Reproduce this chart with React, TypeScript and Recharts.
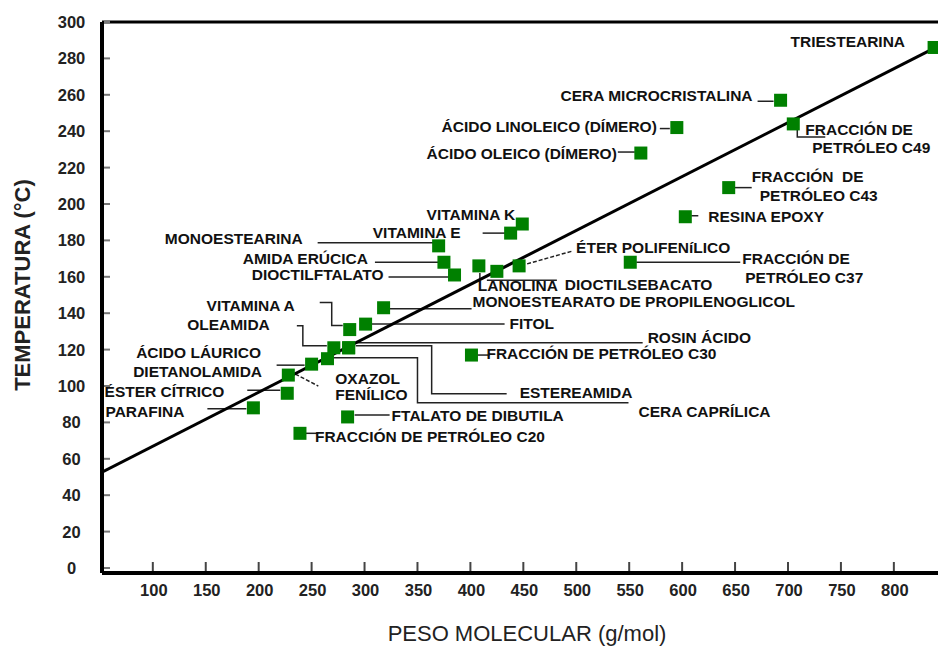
import React from 'react';
import { ComposedChart, Scatter, XAxis, YAxis, ReferenceLine, Label } from 'recharts';

// compuestos (\n = salto de línea en la etiqueta)
const compuestos = [
  'TRIESTEARINA',
  'CERA MICROCRISTALINA',
  'ÁCIDO LINOLEICO (DÍMERO)',
  'ÁCIDO OLEICO (DÍMERO)',
  'FRACCIÓN DE\nPETRÓLEO C49',
  'FRACCIÓN  DE\nPETRÓLEO C43',
  'RESINA EPOXY',
  'VITAMINA K',
  'VITAMINA E',
  'MONOESTEARINA',
  'AMIDA ERÚCICA',
  'DIOCTILFTALATO',
  'LANOLINA',
  'DIOCTILSEBACATO',
  'ÉTER POLIFENíLICO',
  'FRACCIÓN DE\nPETRÓLEO C37',
  'MONOESTEARATO DE PROPILENOGLICOL',
  'FITOL',
  'VITAMINA A',
  'OLEAMIDA',
  'ROSIN ÁCIDO',
  'ESTEREAMIDA',
  'CERA CAPRÍLICA',
  'ÁCIDO LÁURICO\nDIETANOLAMIDA',
  'OXAZOL\nFENÍLICO',
  'ÉSTER CÍTRICO',
  'PARAFINA',
  'FTALATO DE DIBUTILA',
  'FRACCIÓN DE PETRÓLEO C20',
  'FRACCIÓN DE PETRÓLEO C30',
];
const pesoMolecular = [838, 693, 595, 561, 705, 644, 603, 449, 438, 370, 375, 385, 408, 425, 446, 551, 318, 301, 286, 271, 285, 285, 265, 250, 228, 227, 195, 284, 239, 401];
const temperatura = [286, 257, 242, 228, 244, 209, 193, 189, 184, 177, 168, 161, 166, 163, 166, 168, 143, 134, 131, 121, 121, 121, 115, 112, 106, 96, 88, 83, 74, 117];

// recta de tendencia
const tendenciaX = [52, 841];
const tendenciaY = [52.7, 286.5];

const xTicks = [100, 150, 200, 250, 300, 350, 400, 450, 500, 550, 600, 650, 700, 750, 800];
const yTicks = [0, 20, 40, 60, 80, 100, 120, 140, 160, 180, 200, 220, 240, 260, 280, 300];

// ubicación de etiquetas y líneas guía, en px relativos al punto
type Nota = {
  anchor: 'start' | 'end' | 'middle';
  pos: [number, number][];
  path?: [number, number][];
  dashed?: boolean;
};
const notas: Nota[] = [
  { anchor: 'end', pos: [[-29, -6]] },
  { anchor: 'end', pos: [[-28, -5]], path: [[-23, 1], [-7, 1]] },
  { anchor: 'end', pos: [[-20, -1]], path: [[-17, 1], [-7, 1]] },
  { anchor: 'end', pos: [[-24, 0]], path: [[-23, -1], [-6, -1]] },
  { anchor: 'start', pos: [[12, 6], [19, 24]], path: [[4, 1], [4, 13], [32, 13]] },
  { anchor: 'start', pos: [[23, -11], [31, 8]], path: [[4, 0], [23, 0]] },
  { anchor: 'start', pos: [[23, 0]], path: [[6, -1], [13, -1]] },
  { anchor: 'end', pos: [[-7, -10]] },
  { anchor: 'end', pos: [[-50, -1]], path: [[-28, 0], [-5, 0]] },
  { anchor: 'end', pos: [[-136, -7]], path: [[-121, -3], [-5, -3]] },
  { anchor: 'end', pos: [[-76, -4]], path: [[-69, 0], [-5, 0]] },
  { anchor: 'end', pos: [[-71, 0]], path: [[-66, 2], [-4, 2]] },
  { anchor: 'start', pos: [[-1, 20]], path: [[1, 7], [1, 14]] },
  { anchor: 'start', pos: [[68, 13]], path: [[-10, 9], [60, 9]] },
  { anchor: 'start', pos: [[57, -18]], path: [[8, -2], [54, -15]], dashed: true },
  { anchor: 'start', pos: [[112, -4], [115, 15]], path: [[6, 0], [110, 0]] },
  { anchor: 'start', pos: [[89, -6]], path: [[6, 1], [88, 1]] },
  { anchor: 'start', pos: [[144, -1]], path: [[5, 0], [139, 0]] },
  { anchor: 'end', pos: [[-55, -24]], path: [[-30, -27], [-18, -27], [-18, -4], [-7, -4]] },
  { anchor: 'end', pos: [[-64, -23]], path: [[-37, -22], [-31, -22], [-31, -2], [-7, -2]] },
  { anchor: 'start', pos: [[299, -10]], path: [[7, -5], [294, -5]] },
  { anchor: 'start', pos: [[171, 45]], path: [[7, -2], [83, -2], [83, 46], [158, 46]] },
  { anchor: 'start', pos: [[311, 53]], path: [[6, -1], [90, -1], [90, 44], [301, 44]] },
  { anchor: 'middle', pos: [[-113, -12], [-114, 7]], path: [[-35, 1], [-7, 1]] },
  { anchor: 'start', pos: [[47, 3], [47, 19]], path: [[7, -1], [30, 11]], dashed: true },
  { anchor: 'end', pos: [[-63, -2]], path: [[-40, -3], [-7, -3]] },
  { anchor: 'end', pos: [[-69, 4]], path: [[-46, 1], [-7, 1]] },
  { anchor: 'start', pos: [[44, -1]], path: [[7, -2], [42, -2]] },
  { anchor: 'start', pos: [[15, 3]], path: [[6, 0], [18, 0]] },
  { anchor: 'start', pos: [[15, -2]], path: [[6, 0], [18, 0]] },
];

const puntos = compuestos.map((nombre, i) => ({ nombre, i, x: pesoMolecular[i], y: temperatura[i] }));
const tendencia = tendenciaX.map((x, i) => ({ x, y: tendenciaY[i] }));

const FONT = "'Liberation Sans', Arial, sans-serif";
const VERDE = '#008000';
const PLOT_LEFT = 102;
const PLOT_BOTTOM = 573;

function Cuadro(props: any) {
  const { cx, cy } = props;
  return <rect x={cx - 6.5} y={cy - 6.5} width={13} height={13} fill={VERDE} />;
}

function Etiqueta(props: any) {
  const { cx, cy, payload } = props;
  const n = notas[payload.i];
  const lineas = payload.nombre.split('\n');
  return (
    <g>
      {n.path && (
        <polyline
          points={n.path.map(([dx, dy]) => `${cx + dx},${cy + dy}`).join(' ')}
          fill="none"
          stroke="#222"
          strokeWidth={1.5}
          strokeDasharray={n.dashed ? '4 2' : undefined}
        />
      )}
      {lineas.map((t: string, k: number) => (
        <text
          key={k}
          x={cx + n.pos[k][0]}
          y={cy + n.pos[k][1] + 5.5}
          textAnchor={n.anchor}
          fontFamily={FONT}
          fontWeight="bold"
          fontSize={15.5}
          fill="#111"
          style={{ whiteSpace: 'pre' }}
        >
          {t}
        </text>
      ))}
    </g>
  );
}

function YTick({ y, payload }: any) {
  return (
    <g>
      <line x1={PLOT_LEFT + 2} x2={PLOT_LEFT + 8} y1={y} y2={y} stroke="#777" strokeWidth={2} />
      <text x={71.5} y={y + 6} textAnchor="middle" fontFamily={FONT} fontWeight="bold" fontSize={16.5} fill="#222">
        {payload.value}
      </text>
    </g>
  );
}

function XTick({ x, payload }: any) {
  return (
    <g>
      <line x1={x} x2={x} y1={PLOT_BOTTOM - 11} y2={PLOT_BOTTOM - 2} stroke="#444" strokeWidth={2} />
      <text x={x + 1} y={596} textAnchor="middle" fontFamily={FONT} fontWeight="bold" fontSize={16.5} fill="#222">
        {payload.value}
      </text>
    </g>
  );
}

export default function App() {
  return (
    <div style={{ position: 'absolute', left: 0, top: 0, width: 938, height: 648, background: '#fff' }}>
      <ComposedChart width={938} height={648} margin={{ top: 22, right: 0, bottom: 0, left: 0 }}>
        <XAxis
          type="number"
          dataKey="x"
          domain={[52, 841.7]}
          ticks={xTicks}
          height={75}
          tickLine={false}
          tick={<XTick />}
          axisLine={{ stroke: '#000', strokeWidth: 4 }}
          allowDataOverflow
        >
          <Label
            content={() => (
              <text x={527} y={633} textAnchor="middle" dominantBaseline="central" fontFamily={FONT} fontSize={22} fill="#222">
                PESO MOLECULAR (g/mol)
              </text>
            )}
          />
        </XAxis>
        <YAxis
          type="number"
          dataKey="y"
          domain={[-2.75, 300]}
          ticks={yTicks}
          width={102}
          tickLine={false}
          tick={<YTick />}
          axisLine={{ stroke: '#000', strokeWidth: 4 }}
          allowDataOverflow
        >
          <Label
            content={() => (
              <text
                x={22}
                y={285}
                transform="rotate(-90 22 285)"
                textAnchor="middle"
                dominantBaseline="central"
                fontFamily={FONT}
                fontWeight="bold"
                fontSize={22}
                fill="#222"
              >
                TEMPERATURA (°C)
              </text>
            )}
          />
        </YAxis>
        <ReferenceLine y={300} stroke="#000" strokeWidth={3} />
        <Scatter data={puntos} shape={<Etiqueta />} isAnimationActive={false} />
        <Scatter
          data={tendencia}
          line={{ stroke: '#000', strokeWidth: 3 }}
          shape={() => <g />}
          isAnimationActive={false}
        />
        <Scatter data={puntos} shape={<Cuadro />} isAnimationActive={false} />
      </ComposedChart>
    </div>
  );
}
